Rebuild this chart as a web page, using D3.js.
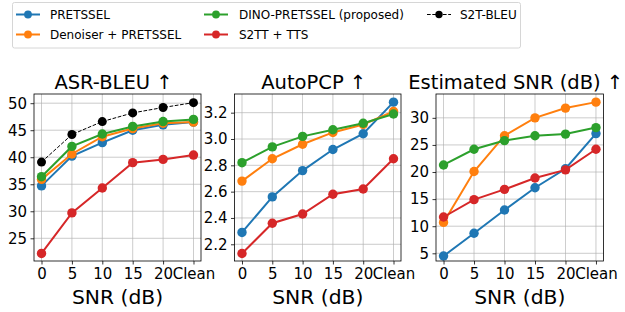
<!DOCTYPE html>
<html>
<head>
<meta charset="utf-8">
<script src="https://cdn.jsdelivr.net/npm/d3@7"></script>
<style>
  body { margin: 0; background: white; }
  svg { font-family: "DejaVu Sans", sans-serif; }
</style>
</head>
<body>
<svg id="chart" width="625" height="312"></svg>
<script>
var snrLabels = ["0", "5", "10", "15", "20", "Clean"];

var seriesNames = ["PRETSSEL", "Denoiser + PRETSSEL", "DINO-PRETSSEL (proposed)", "S2TT + TTS", "S2T-BLEU"];
var seriesColors = ["#1f77b4", "#ff7f0e", "#2ca02c", "#d62728", "#000000"];

// ASR-BLEU
var bleuPretssel = [34.7, 40.2, 42.7, 45.0, 46.0, 46.5];
var bleuDenoiser = [35.9, 40.6, 43.8, 45.3, 46.3, 46.5];
var bleuDino = [36.4, 42.0, 44.3, 45.7, 46.6, 47.0];
var bleuS2tt = [22.2, 29.7, 34.3, 39.0, 39.6, 40.4];
var bleuS2t = [39.1, 44.2, 46.6, 48.2, 49.2, 50.1];

// AutoPCP
var pcpPretssel = [2.29, 2.56, 2.76, 2.92, 3.04, 3.28];
var pcpDenoiser = [2.68, 2.85, 2.96, 3.05, 3.11, 3.21];
var pcpDino = [2.82, 2.94, 3.02, 3.07, 3.12, 3.19];
var pcpS2tt = [2.13, 2.36, 2.43, 2.58, 2.62, 2.85];

// Estimated SNR
var esnrPretssel = [4.5, 8.7, 13.0, 17.1, 20.6, 27.1];
var esnrDenoiser = [10.7, 20.1, 26.7, 30.0, 31.8, 32.9];
var esnrDino = [21.3, 24.2, 25.8, 26.7, 27.0, 28.2];
var esnrS2tt = [11.7, 14.9, 16.8, 18.9, 20.4, 24.2];

var bleuTicks = [25, 30, 35, 40, 45, 50];
var pcpTicks = [2.2, 2.4, 2.6, 2.8, 3.0, 3.2];
var esnrTicks = [5, 10, 15, 20, 25, 30];

var panels = [
  { title: "ASR-BLEU \u2191", left: 34, right: 201, domain: [20.8, 51.7], ticks: bleuTicks, fmt: d3.format("d"),
    series: [bleuPretssel, bleuDenoiser, bleuDino, bleuS2tt, bleuS2t] },
  { title: "AutoPCP \u2191", left: 234.5, right: 401, domain: [2.073, 3.342], ticks: pcpTicks, fmt: d3.format(".1f"),
    series: [pcpPretssel, pcpDenoiser, pcpDino, pcpS2tt, null] },
  { title: "Estimated SNR (dB) \u2191", left: 436, right: 603.5, domain: [3.58, 34.4], ticks: esnrTicks, fmt: d3.format("d"),
    series: [esnrPretssel, esnrDenoiser, esnrDino, esnrS2tt, null] }
];

var plotTop = 94, plotBottom = 261;
var svg = d3.select("#chart");

panels.forEach(function (p) {
  var g = svg.append("g");
  var pad = (p.right - p.left) * 0.045;
  var x = d3.scalePoint().domain(snrLabels).range([p.left + pad, p.right - pad]);
  var y = d3.scaleLinear().domain(p.domain).range([plotBottom, plotTop]);

  // grid
  g.selectAll(".gx").data(snrLabels).enter().append("line")
    .attr("x1", d => x(d)).attr("x2", d => x(d))
    .attr("y1", plotTop).attr("y2", plotBottom)
    .attr("stroke", "#b0b0b0").attr("stroke-width", 0.8).attr("opacity", 0.8);
  g.selectAll(".gy").data(p.ticks).enter().append("line")
    .attr("x1", p.left).attr("x2", p.right)
    .attr("y1", d => y(d)).attr("y2", d => y(d))
    .attr("stroke", "#b0b0b0").attr("stroke-width", 0.8).attr("opacity", 0.8);

  // axes
  var xAxis = d3.axisBottom(x).tickSize(3.5).tickPadding(3.5);
  var yAxis = d3.axisLeft(y).tickValues(p.ticks).tickFormat(p.fmt).tickSize(3.5).tickPadding(3.5);
  var gx = g.append("g").attr("transform", "translate(0," + plotBottom + ")").call(xAxis);
  var gy = g.append("g").attr("transform", "translate(" + p.left + ",0)").call(yAxis);
  [gx, gy].forEach(function (a) {
    a.select(".domain").remove();
    a.selectAll(".tick line").attr("stroke", "black").attr("stroke-width", 0.8);
    a.selectAll(".tick text").attr("font-size", 15).attr("fill", "black")
      .attr("font-family", "DejaVu Sans");
  });

  // lines
  p.series.forEach(function (vals, si) {
    if (!vals) return;
    var col = seriesColors[si];
    var isRef = si === 4;
    var line = d3.line().x((d, i) => x(snrLabels[i])).y(d => y(d));
    g.append("path").datum(vals)
      .attr("d", line).attr("fill", "none").attr("stroke", col)
      .attr("stroke-width", isRef ? 1 : 2)
      .attr("stroke-dasharray", isRef ? "3.7,1.6" : null);
    g.selectAll(".m" + si).data(vals).enter().append("circle")
      .attr("cx", (d, i) => x(snrLabels[i])).attr("cy", d => y(d))
      .attr("r", isRef ? 4.5 : 4.7).attr("fill", col);
  });

  // frame
  g.append("rect").attr("x", p.left).attr("y", plotTop)
    .attr("width", p.right - p.left).attr("height", plotBottom - plotTop)
    .attr("fill", "none").attr("stroke", "black").attr("stroke-width", 0.8);

  g.append("text").attr("x", (p.left + p.right) / 2 - 4).attr("y", 89)
    .attr("text-anchor", "middle").attr("font-size", 19.5).text(p.title);
  g.append("text").attr("x", (p.left + p.right) / 2).attr("y", 304)
    .attr("text-anchor", "middle").attr("font-size", 20.3).text("SNR (dB)");
});

// legend
var leg = svg.append("g");
leg.append("rect").attr("x", 12.5).attr("y", 2.5).attr("width", 508).attr("height", 45.5)
  .attr("rx", 2).attr("fill", "white").attr("stroke", "#d6d6d6").attr("stroke-width", 1);
var legPos = [
  { lx: 16, tx: 50, y: 14.5 },
  { lx: 16, tx: 50, y: 34.5 },
  { lx: 204, tx: 239, y: 14.5 },
  { lx: 204, tx: 239, y: 34.5 },
  { lx: 427, tx: 460, y: 14.5 }
];
seriesNames.forEach(function (name, i) {
  var lp = legPos[i];
  var isRef = i === 4;
  leg.append("line").attr("x1", lp.lx).attr("x2", lp.lx + 24)
    .attr("y1", lp.y).attr("y2", lp.y)
    .attr("stroke", seriesColors[i]).attr("stroke-width", isRef ? 1 : 2)
    .attr("stroke-dasharray", isRef ? "3.7,1.6" : null);
  leg.append("circle").attr("cx", lp.lx + 12).attr("cy", lp.y).attr("r", isRef ? 3.7 : 3.9)
    .attr("fill", seriesColors[i]);
  leg.append("text").attr("x", lp.tx).attr("y", lp.y).attr("dy", "0.36em")
    .attr("font-size", 12).text(name);
});
</script>
</body>
</html>
